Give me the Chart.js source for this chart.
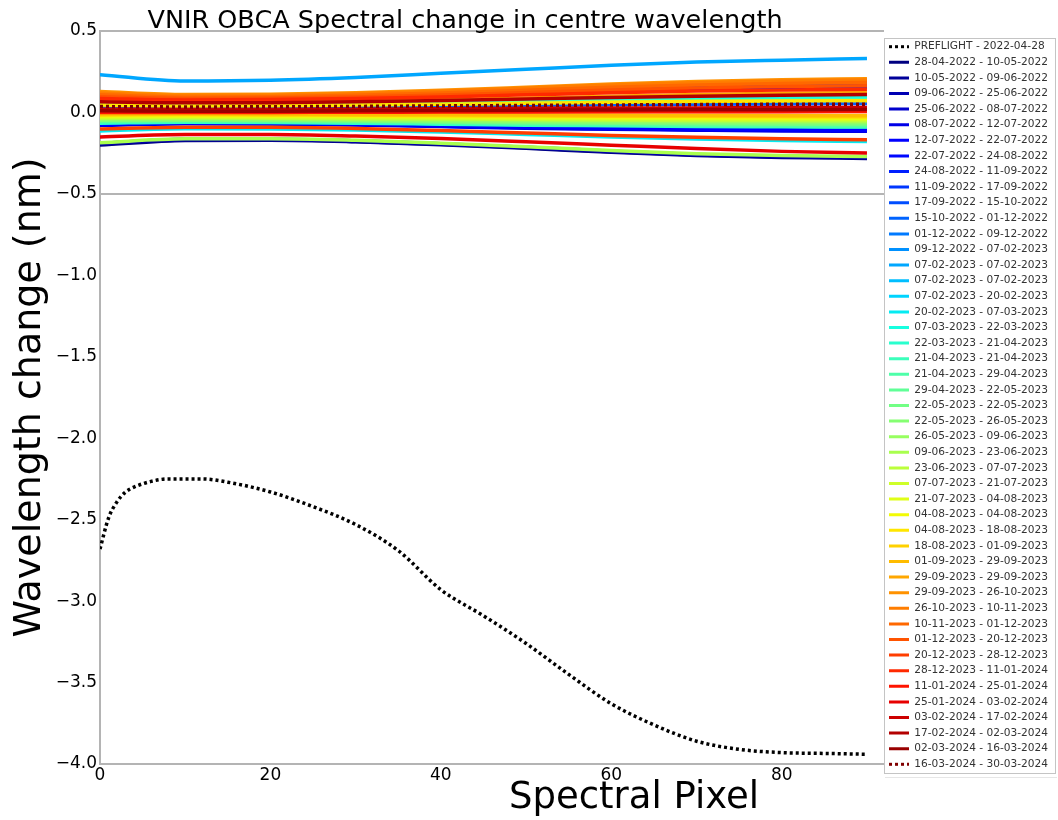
<!DOCTYPE html>
<html>
<head>
<meta charset="utf-8">
<script src="https://cdn.jsdelivr.net/npm/chart.js@4.4.1/dist/chart.umd.min.js"></script>
<style>
  html, body { margin: 0; padding: 0; background: #ffffff; }
  canvas { display: block; }
</style>
</head>
<body>
<canvas id="chart" width="1058" height="820"></canvas>
<script>
// ---------------- DATA ----------------
const chartTitle = 'VNIR OBCA Spectral change in centre wavelength';
const xAxisTitle = 'Spectral Pixel';
const yAxisTitle = 'Wavelength change (nm)';

const xTickValues = [0, 20, 40, 60, 80];
const xTickLabels = ['0', '20', '40', '60', '80'];
const yTickValues = [0.5, 0.0, -0.5, -1.0, -1.5, -2.0, -2.5, -3.0, -3.5, -4.0];
const yTickLabels = ['0.5', '0.0', '\u22120.5', '\u22121.0', '\u22121.5', '\u22122.0', '\u22122.5', '\u22123.0', '\u22123.5', '\u22124.0'];

// Spectral pixel positions of the sampled values
const preflightPixel = [0, 1, 2, 3, 4, 6, 8, 10, 12, 15, 20, 25, 30, 35, 40, 45, 50, 55, 60, 65, 70, 75, 80, 85, 90];
const preflightLabel = 'PREFLIGHT - 2022-04-28';
const preflight = [-2.68, -2.49, -2.39, -2.33, -2.30, -2.265, -2.25, -2.25, -2.25, -2.27, -2.33, -2.42, -2.53, -2.69, -2.93, -3.09, -3.26, -3.45, -3.63, -3.76, -3.86, -3.91, -3.93, -3.935, -3.94];

const seriesPixel = [0, 10, 20, 30, 40, 50, 60, 70, 80, 90];

const dateLabels = [
  '28-04-2022 - 10-05-2022', '10-05-2022 - 09-06-2022', '09-06-2022 - 25-06-2022', '25-06-2022 - 08-07-2022',
  '08-07-2022 - 12-07-2022', '12-07-2022 - 22-07-2022', '22-07-2022 - 24-08-2022', '24-08-2022 - 11-09-2022',
  '11-09-2022 - 17-09-2022', '17-09-2022 - 15-10-2022', '15-10-2022 - 01-12-2022', '01-12-2022 - 09-12-2022',
  '09-12-2022 - 07-02-2023', '07-02-2023 - 07-02-2023', '07-02-2023 - 07-02-2023', '07-02-2023 - 20-02-2023',
  '20-02-2023 - 07-03-2023', '07-03-2023 - 22-03-2023', '22-03-2023 - 21-04-2023', '21-04-2023 - 21-04-2023',
  '21-04-2023 - 29-04-2023', '29-04-2023 - 22-05-2023', '22-05-2023 - 22-05-2023', '22-05-2023 - 26-05-2023',
  '26-05-2023 - 09-06-2023', '09-06-2023 - 23-06-2023', '23-06-2023 - 07-07-2023', '07-07-2023 - 21-07-2023',
  '21-07-2023 - 04-08-2023', '04-08-2023 - 04-08-2023', '04-08-2023 - 18-08-2023', '18-08-2023 - 01-09-2023',
  '01-09-2023 - 29-09-2023', '29-09-2023 - 29-09-2023', '29-09-2023 - 26-10-2023', '26-10-2023 - 10-11-2023',
  '10-11-2023 - 01-12-2023', '01-12-2023 - 20-12-2023', '20-12-2023 - 28-12-2023', '28-12-2023 - 11-01-2024',
  '11-01-2024 - 25-01-2024', '25-01-2024 - 03-02-2024', '03-02-2024 - 17-02-2024', '17-02-2024 - 02-03-2024',
  '02-03-2024 - 16-03-2024', '16-03-2024 - 30-03-2024'
];

const d01 = [-0.200, -0.172, -0.170, -0.180, -0.198, -0.220, -0.245, -0.265, -0.276, -0.282];
const d02 = [-0.196, -0.169, -0.168, -0.178, -0.196, -0.217, -0.242, -0.262, -0.273, -0.279];
const d03 = [-0.190, -0.165, -0.164, -0.174, -0.192, -0.213, -0.238, -0.258, -0.269, -0.275];
const d04 = [-0.076, -0.066, -0.068, -0.074, -0.084, -0.094, -0.100, -0.106, -0.110, -0.112];
const d05 = [-0.079, -0.069, -0.071, -0.077, -0.087, -0.097, -0.103, -0.109, -0.114, -0.116];
const d06 = [-0.073, -0.063, -0.065, -0.071, -0.081, -0.091, -0.097, -0.103, -0.107, -0.108];
const d07 = [0.032, 0.030, 0.031, 0.035, 0.040, 0.045, 0.049, 0.052, 0.054, 0.055];
const d08 = [0.090, 0.080, 0.082, 0.089, 0.100, 0.114, 0.129, 0.140, 0.149, 0.154];
const d09 = [0.096, 0.086, 0.088, 0.095, 0.108, 0.124, 0.141, 0.155, 0.165, 0.170];
const d10 = [0.100, 0.090, 0.093, 0.101, 0.115, 0.134, 0.154, 0.168, 0.178, 0.185];
const d11 = [0.036, 0.031, 0.032, 0.036, 0.041, 0.046, 0.050, 0.053, 0.055, 0.056];
const d12 = [0.108, 0.097, 0.100, 0.108, 0.122, 0.140, 0.158, 0.172, 0.182, 0.188];
const d13 = [0.060, 0.054, 0.055, 0.059, 0.064, 0.070, 0.075, 0.079, 0.082, 0.084];
const d14 = [0.232, 0.193, 0.198, 0.215, 0.240, 0.265, 0.290, 0.309, 0.321, 0.331];
const d15 = [0.056, 0.050, 0.051, 0.055, 0.061, 0.068, 0.075, 0.080, 0.083, 0.086];
const d16 = [0.058, 0.052, 0.053, 0.058, 0.064, 0.071, 0.078, 0.084, 0.088, 0.090];
const d17 = [-0.114, -0.100, -0.101, -0.108, -0.120, -0.135, -0.150, -0.163, -0.172, -0.178];
const d18 = [0.062, 0.056, 0.057, 0.062, 0.068, 0.075, 0.082, 0.087, 0.091, 0.093];
const d19 = [-0.066, -0.060, -0.062, -0.066, -0.072, -0.078, -0.082, -0.086, -0.088, -0.090];
const d20 = [-0.061, -0.056, -0.058, -0.062, -0.068, -0.074, -0.078, -0.082, -0.085, -0.087];
const d21 = [-0.056, -0.052, -0.054, -0.058, -0.064, -0.070, -0.074, -0.078, -0.081, -0.083];
const d22 = [0.050, 0.045, 0.046, 0.050, 0.055, 0.061, 0.066, 0.070, 0.073, 0.075];
const d23 = [-0.050, -0.048, -0.050, -0.053, -0.058, -0.063, -0.067, -0.070, -0.072, -0.074];
const d24 = [-0.045, -0.043, -0.045, -0.048, -0.052, -0.056, -0.060, -0.062, -0.064, -0.065];
const d25 = [-0.040, -0.038, -0.040, -0.043, -0.047, -0.050, -0.053, -0.055, -0.057, -0.058];
const d26 = [-0.186, -0.162, -0.161, -0.171, -0.189, -0.210, -0.234, -0.254, -0.265, -0.271];
const d27 = [-0.035, -0.033, -0.035, -0.038, -0.041, -0.044, -0.047, -0.049, -0.050, -0.051];
const d28 = [-0.030, -0.028, -0.030, -0.032, -0.035, -0.038, -0.040, -0.042, -0.043, -0.044];
const d29 = [-0.025, -0.023, -0.025, -0.027, -0.030, -0.032, -0.034, -0.036, -0.037, -0.038];
const d30 = [-0.020, -0.018, -0.020, -0.022, -0.024, -0.026, -0.028, -0.030, -0.031, -0.032];
const d31 = [0.045, 0.040, 0.041, 0.045, 0.050, 0.056, 0.062, 0.067, 0.070, 0.072];
const d32 = [-0.015, -0.013, -0.015, -0.017, -0.019, -0.021, -0.023, -0.024, -0.025, -0.026];
const d33 = [-0.010, -0.008, -0.010, -0.012, -0.013, -0.015, -0.016, -0.017, -0.018, -0.018];
const d34 = [0.070, 0.063, 0.064, 0.070, 0.078, 0.088, 0.100, 0.110, 0.118, 0.122];
const d35 = [0.128, 0.110, 0.112, 0.121, 0.136, 0.155, 0.175, 0.190, 0.200, 0.207];
const d36 = [0.120, 0.104, 0.106, 0.115, 0.130, 0.149, 0.168, 0.183, 0.193, 0.199];
const d37 = [0.108, 0.094, 0.097, 0.105, 0.119, 0.136, 0.154, 0.168, 0.178, 0.184];
const d38 = [0.097, 0.086, 0.088, 0.095, 0.107, 0.122, 0.138, 0.150, 0.159, 0.164];
const d39 = [-0.102, -0.091, -0.091, -0.098, -0.111, -0.126, -0.141, -0.153, -0.162, -0.167];
const d40 = [0.086, 0.077, 0.079, 0.085, 0.095, 0.108, 0.121, 0.131, 0.138, 0.142];
const d41 = [0.000, -0.001, 0.000, 0.001, 0.002, 0.003, 0.004, 0.005, 0.005, 0.006];
const d42 = [-0.150, -0.136, -0.136, -0.145, -0.160, -0.180, -0.201, -0.222, -0.239, -0.249];
const d43 = [0.020, 0.018, 0.018, 0.020, 0.022, 0.025, 0.027, 0.028, 0.030, 0.030];
const d44 = [0.066, 0.059, 0.060, 0.065, 0.073, 0.082, 0.092, 0.100, 0.106, 0.110];
const d45 = [0.010, 0.008, 0.008, 0.010, 0.012, 0.014, 0.015, 0.016, 0.017, 0.018];
const d46 = [0.036, 0.034, 0.035, 0.037, 0.040, 0.043, 0.046, 0.048, 0.050, 0.051];

const dateSeries = [d01, d02, d03, d04, d05, d06, d07, d08, d09, d10, d11, d12, d13, d14, d15, d16,
  d17, d18, d19, d20, d21, d22, d23, d24, d25, d26, d27, d28, d29, d30, d31, d32, d33, d34, d35, d36,
  d37, d38, d39, d40, d41, d42, d43, d44, d45, d46];

// ---------------- STYLE ----------------
function interp(stops, t) {
  for (let i = 1; i < stops.length; i++) {
    if (t <= stops[i][0]) {
      const a = stops[i - 1], b = stops[i];
      const f = (t - a[0]) / (b[0] - a[0]);
      return a[1] + f * (b[1] - a[1]);
    }
  }
  return stops[stops.length - 1][1];
}
function jet(t) {
  const r = interp([[0, 0], [0.35, 0], [0.66, 1], [0.89, 1], [1, 0.5]], t);
  const g = interp([[0, 0], [0.125, 0], [0.375, 1], [0.64, 1], [0.91, 0], [1, 0]], t);
  const b = interp([[0, 0.5], [0.11, 1], [0.34, 1], [0.65, 0], [1, 0]], t);
  return 'rgb(' + Math.round(r * 255) + ',' + Math.round(g * 255) + ',' + Math.round(b * 255) + ')';
}

const FONT = "'DejaVu Sans', 'Liberation Sans', sans-serif";
const DOTS = [3, 3];
const nDates = dateSeries.length;

const datasets = [{
  label: preflightLabel,
  data: preflightPixel.map((x, i) => ({ x: x, y: preflight[i] })),
  borderColor: '#000000',
  backgroundColor: '#000000',
  borderDash: DOTS,
  order: 1000
}].concat(dateSeries.map((vals, i) => ({
  label: dateLabels[i],
  data: seriesPixel.map((x, j) => ({ x: x, y: vals[j] })),
  borderColor: jet(i / (nDates - 1)),
  backgroundColor: jet(i / (nDates - 1)),
  borderDash: i === nDates - 1 ? DOTS : [],
  order: 500 - i
})));

datasets.forEach(ds => {
  ds.borderWidth = 3.5;
  ds.pointRadius = 0;
  ds.pointHoverRadius = 0;
  ds.fill = false;
  ds.cubicInterpolationMode = 'monotone';
});

// Fine placement of the title boxes and legend
const placement = {
  id: 'placement',
  afterLayout(chart) {
    const t = chart.titleBlock;
    if (t) { t.left -= 27; t.right -= 27; t.top += 3; t.bottom += 3; }
    const lg = chart.legend;
    if (lg) { lg.top -= 4.5; lg.bottom -= 4.5; }
    chart.boxes.forEach(b => {
      if (b !== t && b.options && b.options.text === xAxisTitle) { b.left += 142; b.right += 142; }
    });
  }
};

const legendFrame = {
  id: 'legendFrame',
  afterDraw(chart) {
    const lg = chart.legend;
    if (!lg || !lg.columnSizes || !lg.columnSizes.length) return;
    const p = lg.options.labels.padding;
    const colH = lg.columnSizes[0].height;
    const start = (lg.top + p + lg.bottom - colH) / 2;
    const ctx = chart.ctx;
    ctx.save();
    ctx.strokeStyle = '#c4c4c4';
    ctx.lineWidth = 1;
    ctx.strokeRect(Math.round(lg.left) + 0.5, Math.round(start - 3) + 0.5, Math.round(lg.width) - 3, Math.round(colH + 2));
    ctx.strokeStyle = '#e6e6e6';
    ctx.beginPath();
    ctx.moveTo(Math.round(lg.left) + 1, Math.round(start + colH) + 2.5);
    ctx.lineTo(Math.round(lg.left + lg.width) - 1, Math.round(start + colH) + 2.5);
    ctx.stroke();
    ctx.restore();
  }
};

const AXIS_GREY = '#b4b4b4';

new Chart(document.getElementById('chart'), {
  type: 'line',
  data: { datasets: datasets },
  options: {
    responsive: false,
    animation: false,
    events: [],
    layout: { padding: { top: 0, right: 0, bottom: 0, left: 0 } },
    plugins: {
      title: {
        display: true,
        text: chartTitle,
        fullSize: false,
        color: '#000000',
        font: { family: FONT, size: 25.5, weight: 'normal', lineHeight: 1.0 },
        padding: { top: 5.5, bottom: 0 }
      },
      subtitle: {
        display: true,
        text: xAxisTitle,
        position: 'bottom',
        fullSize: false,
        color: '#000000',
        font: { family: FONT, size: 37, weight: 'normal', lineHeight: 1.0 },
        padding: { top: 0, bottom: 3 }
      },
      legend: {
        display: true,
        position: 'right',
        align: 'center',
        labels: {
          font: { family: FONT, size: 10.6 },
          color: '#333333',
          usePointStyle: true,
          pointStyle: 'line',
          pointStyleWidth: 20,
          padding: 5.0,
          sort: (a, b) => a.datasetIndex - b.datasetIndex,
          generateLabels(chart) {
            const items = Chart.defaults.plugins.legend.labels.generateLabels(chart);
            items.forEach(it => {
              const ds = chart.data.datasets[it.datasetIndex];
              it.lineDash = ds.borderDash;
              it.lineWidth = 3;
              it.strokeStyle = ds.borderColor;
              it.fillStyle = ds.borderColor;
              it.pointStyle = 'line';
              it.lineCap = 'butt';
            });
            return items;
          }
        }
      },
      tooltip: { enabled: false }
    },
    scales: {
      x: {
        type: 'linear',
        min: 0,
        max: 92,
        afterFit(scale) { scale.height = 16; },
        afterBuildTicks(scale) { scale.ticks = xTickValues.map(v => ({ value: v })); },
        grid: { display: false, drawTicks: false },
        border: { display: true, color: AXIS_GREY, width: 2 },
        ticks: {
          color: '#000000',
          padding: 1,
          maxRotation: 0,
          autoSkip: false,
          font: { family: FONT, size: 17 },
          callback: (v) => xTickLabels[xTickValues.indexOf(v)]
        },
        title: { display: false }
      },
      y: {
        type: 'linear',
        min: -4,
        max: 0.5,
        afterFit(scale) { scale.width = 100; },
        afterBuildTicks(scale) { scale.ticks = yTickValues.map(v => ({ value: v })); },
        grid: {
          drawTicks: false,
          lineWidth: 2,
          color: (ctx) => (ctx.tick && (ctx.tick.value === 0.5 || ctx.tick.value === -0.5)) ? AXIS_GREY : 'rgba(0,0,0,0)'
        },
        border: { display: true, color: AXIS_GREY, width: 2 },
        ticks: {
          color: '#000000',
          padding: 3,
          autoSkip: false,
          font: { family: FONT, size: 17 },
          callback: (v) => yTickLabels[yTickValues.indexOf(v)]
        },
        title: {
          display: true,
          text: yAxisTitle,
          color: '#000000',
          font: { family: FONT, size: 38, weight: 'normal', lineHeight: 1.2 },
          padding: { top: 7, bottom: 0 }
        }
      }
    }
  },
  plugins: [placement, legendFrame]
});
</script>
</body>
</html>
